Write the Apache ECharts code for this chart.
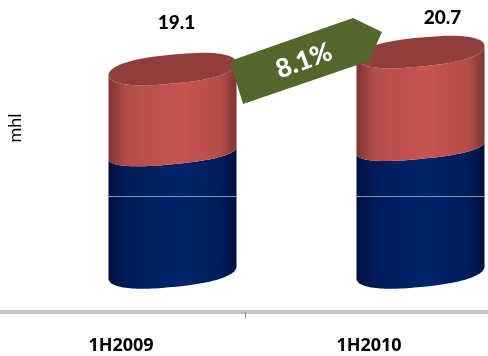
<!DOCTYPE html>
<html>
<head>
<meta charset="utf-8">
<style>html,body{margin:0;padding:0;background:#fff}#chart{width:488px;height:356px}</style>
<script src="https://cdn.jsdelivr.net/npm/echarts@6/dist/echarts.min.js"></script>
</head>
<body>
<div id="chart"></div>
<script>
// Half-year volumes in mhl, stacked
const categories = ['1H2009', '1H2010'];
const lowerValues = [11.2, 11.7];
const upperValues = [7.9, 9.0];
const totalLabels = ['19.1', '20.7'];
const growthLabel = '8.1%';
const gridLineValue = 7.18;

// Cylinder drawing parameters
const shiftX = 51.5;
const halfWidth = 64;
const tilt = 0.094;
const capDepth = 14.5;
const splitDepth = 11;
const rimPower = 0.78;
const labelLift = [46, 34];
const labelShift = [4, 22];

const chart = echarts.init(document.getElementById('chart'));

// Points along a tilted, slightly squared elliptical rim between two angles
function rim(cx, cy, depth, from, to) {
  const pts = [];
  const steps = 64;
  for (let i = 0; i <= steps; i++) {
    const t = from + (to - from) * i / steps;
    const c = Math.cos(t), s = Math.sin(t);
    const dx = halfWidth * Math.sign(c) * Math.pow(Math.abs(c), rimPower);
    const dy = depth * Math.sign(s) * Math.pow(Math.abs(s), 0.95);
    pts.push([cx + dx, cy + dy - tilt * dx]);
  }
  return pts;
}

function sideFill(edge, mid) {
  return new echarts.graphic.LinearGradient(0, 0, 1, 0, [
    { offset: 0, color: edge },
    { offset: 0.14, color: mid[0] },
    { offset: 0.55, color: mid[1] },
    { offset: 0.88, color: mid[0] },
    { offset: 1, color: edge }
  ]);
}

function renderCylinder(params, api) {
  const i = api.value(0);
  const cx = api.coord([i, 0])[0] + shiftX;
  const y0 = api.coord([i, 0])[1];
  const y1 = api.coord([i, api.value(1)])[1];
  const y2 = api.coord([i, api.value(1) + api.value(2)])[1];
  const gridY = api.coord([i, gridLineValue])[1];
  // Front edges run left to right through angles PI..0 and bulge downward
  const bottomFront = rim(cx, y0, capDepth, Math.PI, 0);
  const splitFront = rim(cx, y1, splitDepth, Math.PI, 0);
  const topFront = rim(cx, y2, capDepth, Math.PI, 0);
  const topRing = rim(cx, y2, capDepth, 0, Math.PI * 2);
  return {
    type: 'group',
    children: [
      {
        type: 'polygon',
        shape: { points: bottomFront.concat(splitFront.slice().reverse()) },
        style: { fill: sideFill('#000f3d', ['#001c5a', '#00246b']) }
      },
      {
        type: 'polygon',
        shape: { points: splitFront.concat(topFront.slice().reverse()) },
        style: { fill: sideFill('#7d3433', ['#b44d4a', '#c85450']) }
      },
      {
        type: 'polygon',
        shape: { points: topRing },
        style: { fill: '#8f3e3c' }
      },
      {
        type: 'line',
        shape: { x1: cx - halfWidth, y1: gridY + 0.5, x2: cx + halfWidth, y2: gridY + 0.5 },
        style: { stroke: '#8d97ae', lineWidth: 1 }
      },
      {
        type: 'text',
        style: {
          x: cx + labelShift[i],
          y: y2 - labelLift[i],
          text: totalLabels[i],
          align: 'center',
          verticalAlign: 'middle',
          fill: '#000',
          fontFamily: 'Lato',
          fontWeight: 900,
          fontSize: 19
        }
      }
    ]
  };
}

chart.setOption({
  animation: false,
  backgroundColor: '#fff',
  grid: { left: -3, right: -5, top: 6.25, bottom: 83.5, outerBoundsMode: 'none' },
  xAxis: {
    type: 'category',
    data: categories,
    offset: 39.5,
    axisLine: { onZero: false, lineStyle: { color: '#c4c4c4', width: 4 } },
    axisTick: { show: true, length: 6, lineStyle: { color: '#8a8a8a', width: 1 } },
    axisLabel: {
      color: '#000',
      margin: 25,
      fontFamily: 'Open Sans',
      fontWeight: 'bold',
      fontSize: 18
    }
  },
  yAxis: {
    type: 'value',
    min: 0,
    max: 25,
    axisLine: { show: false },
    axisTick: { show: false },
    axisLabel: { show: false },
    splitLine: { show: false }
  },
  series: [{
    type: 'custom',
    renderItem: renderCylinder,
    clip: false,
    encode: { x: 0, y: 1 },
    data: categories.map((c, i) => [i, lowerValues[i], upperValues[i]])
  }],
  graphic: [
    {
      type: 'text',
      x: 15, y: 128, rotation: Math.PI / 2,
      style: { text: 'mhl', align: 'center', verticalAlign: 'middle', fill: '#000', fontFamily: 'Lato', fontSize: 18 }
    },
    {
      type: 'polygon',
      shape: { points: [[230, 61], [353, 18], [382, 32], [369, 61], [243, 104]] },
      style: { fill: '#53662c' },
      z: 10
    },
    {
      type: 'text',
      x: 304, y: 61, rotation: 20 * Math.PI / 180,
      style: { text: growthLabel, align: 'center', verticalAlign: 'middle', fill: '#fff', fontFamily: 'Lato', fontWeight: 900, fontSize: 26 },
      z: 11
    }
  ]
});
</script>
</body>
</html>
